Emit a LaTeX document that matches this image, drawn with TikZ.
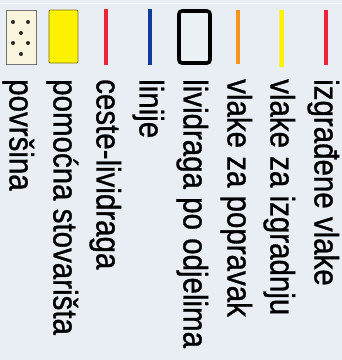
\documentclass[tikz,border=0pt]{standalone}
\usepackage{fontspec}
\setmainfont{Liberation Sans}[FakeBold=1]
\definecolor{bgc}{HTML}{E9EEF4}
\definecolor{redc}{HTML}{EE2238}
\definecolor{bluec}{HTML}{0E3C98}
\definecolor{orangec}{HTML}{F7941D}
\definecolor{yellowc}{HTML}{FFF200}
\definecolor{creamc}{HTML}{F8F5DC}
\newcommand{\legtxt}[1]{\scalebox{1}[1.15]{#1}}
\begin{document}
\begin{tikzpicture}[x=1pt,y=-1pt,
  legline/.style={line width=3.2pt},
  legtext/.style={rotate=-90,anchor=base west,inner sep=0pt,font=\fontsize{29.5}{30}\selectfont,text=black}]
\useasboundingbox (0,0) rectangle (342,360);
\fill[bgc] (0,0) rectangle (342,360);
\draw[white!70!bgc,line width=1pt] (0,3) -- (342,3);
% dotted surface box
\draw[fill=creamc,draw=gray!90!black,line width=0.8pt] (6,10) rectangle (36,64);
\foreach \p in {(13,22),(28,22),(21,33),(13,43),(28,43),(21,54)}
  \fill[black!85] \p circle (2);
\node[legtext] (t1) at (9.5,79) {\legtxt{površina}};
% yellow box
\draw[fill=yellowc,draw=olive!80!black,line width=0.9pt,rounded corners=1pt] (49,10) rectangle (78,63);
\node[legtext] (t2) at (53.5,79) {\legtxt{pomoćna stovarišta}};
% red line
\coordinate (r1a) at (106,9); \coordinate (r1b) at (106,65);
\draw[legline,redc] (r1a) -- (r1b);
\node[legtext] (t3) at (96.5,79) {\legtxt{ceste-lividraga}};
% blue line
\coordinate (b1a) at (150,9); \coordinate (b1b) at (150,65);
\draw[legline,bluec] (b1a) -- (b1b);
\node[legtext] (t4) at (139.5,79) {\legtxt{linije}};
% black rounded rect
\draw[line width=3.6pt,black,rounded corners=3pt,fill=bgc!85!white] (179,11) rectangle (210,63);
\node[legtext] (t5) at (183.5,79) {\legtxt{lividraga po odjelima}};
% orange line
\coordinate (o1a) at (238,10); \coordinate (o1b) at (238,64);
\draw[legline,orangec] (o1a) -- (o1b);
\node[legtext] (t6) at (227.5,79) {\legtxt{vlake za popravak}};
% yellow line
\coordinate (y1a) at (282,10); \coordinate (y1b) at (282,67);
\draw[line width=5pt,yellowc!60!bgc] (y1a) -- (y1b);
\draw[legline,yellowc] (y1a) -- (y1b);
\node[legtext] (t7) at (270.5,79) {\legtxt{vlake za izgradnju}};
% red line
\coordinate (r2a) at (326,10); \coordinate (r2b) at (326,65);
\draw[legline,redc] (r2a) -- (r2b);
\node[legtext] (t8) at (314.5,79) {\legtxt{izgrađene vlake}};
\end{tikzpicture}
\end{document}
